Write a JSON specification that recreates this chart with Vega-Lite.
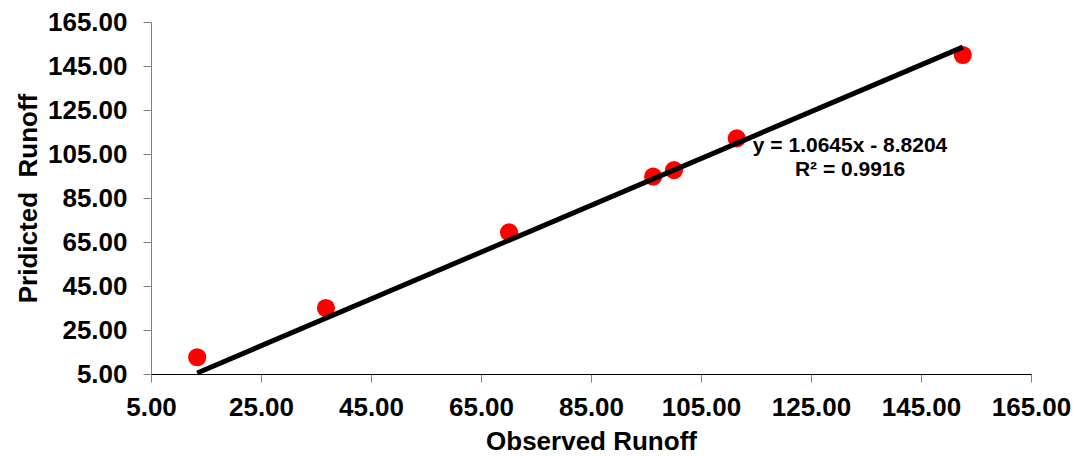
{
  "$schema": "https://vega.github.io/schema/vega-lite/v6.json",
  "width": 880,
  "height": 352,
  "autosize": "none",
  "padding": {"left": 151, "top": 22, "right": 47, "bottom": 82},
  "background": "white",
  "config": {
    "view": {"stroke": null},
    "font": "Liberation Sans",
    "axis": {"grid": false}
  },
  "datasets": {
    "pts": [
      {"observed": 13.4, "predicted": 12.6},
      {"observed": 36.8, "predicted": 35.0},
      {"observed": 70.1, "predicted": 69.4},
      {"observed": 96.3, "predicted": 94.7},
      {"observed": 100.1, "predicted": 97.7},
      {"observed": 111.5, "predicted": 112.1},
      {"observed": 152.6, "predicted": 150.0}
    ],
    "trend": [
      {"observed": 13.4, "predicted": 5.45},
      {"observed": 152.6, "predicted": 153.6}
    ],
    "note": [
      {"x": 132.1, "y": 108.8, "label": "y = 1.0645x - 8.8204"},
      {"x": 132.1, "y": 97.7, "label": "R² = 0.9916"}
    ]
  },
  "layer": [
    {
      "data": {"name": "pts"},
      "mark": {"type": "circle", "color": "#ff0000", "opacity": 1, "size": 330},
      "encoding": {
        "x": {
          "field": "observed",
          "type": "quantitative",
          "scale": {"domain": [5, 165], "nice": false, "zero": false},
          "axis": {
            "title": "Observed Runoff",
            "values": [5, 25, 45, 65, 85, 105, 125, 145, 165],
            "format": ".2f",
            "labelFont": "Liberation Sans",
            "labelFontSize": 26,
            "labelFontWeight": "bold",
            "labelColor": "black",
            "labelPadding": 12,
            "labelFlush": false,
            "labelOverlap": false,
            "tickSize": 8,
            "tickColor": "#808080",
            "domainColor": "black",
            "titleFont": "Liberation Sans",
            "titleFontSize": 26,
            "titleFontWeight": "bold",
            "titleColor": "black",
            "titlePadding": 8
          }
        },
        "y": {
          "field": "predicted",
          "type": "quantitative",
          "scale": {"domain": [5, 165], "nice": false, "zero": false},
          "axis": {
            "title": "Pridicted\u00a0 Runoff",
            "values": [5, 25, 45, 65, 85, 105, 125, 145, 165],
            "format": ".2f",
            "labelFont": "Liberation Sans",
            "labelFontSize": 26,
            "labelFontWeight": "bold",
            "labelColor": "black",
            "labelPadding": 16,
            "labelFlush": false,
            "labelOverlap": false,
            "tickSize": 8,
            "tickColor": "#808080",
            "domainColor": "#808080",
            "titleFont": "Liberation Sans",
            "titleFontSize": 26,
            "titleFontWeight": "bold",
            "titleColor": "black",
            "titlePadding": 6
          }
        }
      }
    },
    {
      "data": {"name": "trend"},
      "mark": {"type": "line", "color": "black", "strokeWidth": 5},
      "encoding": {
        "x": {"field": "observed", "type": "quantitative"},
        "y": {"field": "predicted", "type": "quantitative"}
      }
    },
    {
      "data": {"name": "note"},
      "mark": {"type": "text", "font": "Liberation Sans", "fontSize": 21, "fontWeight": "bold", "color": "black", "align": "center", "baseline": "middle"},
      "encoding": {
        "x": {"field": "x", "type": "quantitative"},
        "y": {"field": "y", "type": "quantitative"},
        "text": {"field": "label"}
      }
    }
  ]
}
